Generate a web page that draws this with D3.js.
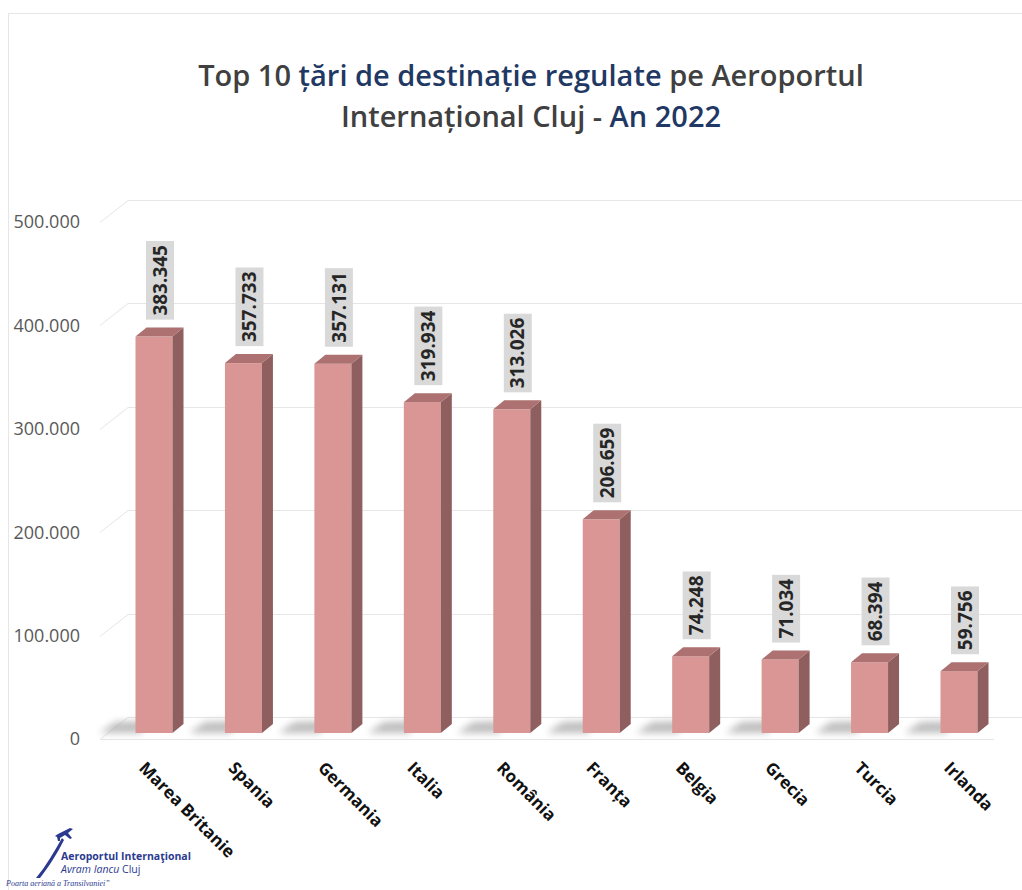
<!DOCTYPE html>
<html><head><meta charset="utf-8">
<script src="https://cdn.jsdelivr.net/npm/d3@7"></script>
<style>
html,body{margin:0;padding:0;background:#fff;}
svg{display:block;font-family:"Open Sans",sans-serif;}
</style></head>
<body><svg id="c" width="1022" height="890"></svg>
<script>
const categories = ["Marea Britanie","Spania","Germania","Italia","România","Franța","Belgia","Grecia","Turcia","Irlanda"];
const passengers = [383345,357733,357131,319934,313026,206659,74248,71034,68394,59756];
const yTicks = [0,100000,200000,300000,400000,500000];

const fmt = d3.formatLocale({decimal:",",thousands:".",grouping:[3],currency:["",""]}).format(",d");
const svg = d3.select("#c");
const defs = svg.append("defs");
defs.append("filter").attr("id","blur").attr("x","-50%").attr("y","-100%").attr("width","200%").attr("height","300%")
  .append("feGaussianBlur").attr("stdDeviation",3.5);

// frame
svg.append("rect").attr("x",8.5).attr("y",13.5).attr("width",1030).attr("height",900)
  .attr("fill","none").attr("stroke","#e6e6e6");

// title
const title = svg.append("g").attr("font-weight",600).attr("font-size",29).attr("text-anchor","middle");
const t1 = title.append("text").attr("x",531).attr("y",86);
t1.append("tspan").attr("fill","#404040").text("Top 10 ");
t1.append("tspan").attr("fill","#1f3864").text("țări de destinație regulate");
t1.append("tspan").attr("fill","#404040").text(" pe Aeroportul");
const t2 = title.append("text").attr("x",531).attr("y",127);
t2.append("tspan").attr("fill","#404040").text("Internațional Cluj - ");
t2.append("tspan").attr("fill","#1f3864").text("An 2022");

// scales
const yBack = d3.scaleLinear().domain([0,500000]).range([717,200]);
const yBar = d3.scaleLinear().domain([0,500000]).range([733,216]);
const x = d3.scalePoint().domain(categories).range([154,959]);
const DX = 28, DY = 22; // wall-to-front offset
const bw = 37, ddx = 11, ddy = 9;

// gridlines
const grid = svg.append("g").attr("stroke","#e6e6e6").attr("stroke-width",1).attr("fill","none");
yTicks.forEach(v=>{
  const yy = Math.round(yBack(v))+0.5;
  grid.append("line").attr("x1",128).attr("x2",1022).attr("y1",yy).attr("y2",yy);
  grid.append("line").attr("x1",128-DX).attr("x2",128).attr("y1",yy+DY).attr("y2",yy);
});
grid.append("line").attr("x1",100).attr("x2",994).attr("y1",Math.round(yBack(0))+DY+0.5).attr("y2",Math.round(yBack(0))+DY+0.5);

// y axis labels
svg.append("g").selectAll("text").data(yTicks).join("text")
  .attr("x",80).attr("y",d=>yBack(d)+DY).attr("dy","0.35em")
  .attr("text-anchor","end").attr("font-size",18).attr("fill","#595959")
  .text(d=>fmt(d));

// bars
const bars = svg.append("g");
categories.forEach((c,i)=>{
  const v = passengers[i];
  const x0 = x(c) - bw/2, x1 = x0 + bw;
  const yt = yBar(v), yb = yBar(0);
  const g = bars.append("g");
  g.append("polygon").attr("points",[[x0+6,yb],[x0-36,yb],[x0-20,yb-11],[x0+10,yb-12]].join(" "))
    .attr("fill","#8a8a8a").attr("opacity",0.55).attr("filter","url(#blur)");
  g.append("rect").attr("x",x0).attr("y",yt).attr("width",bw).attr("height",yb-yt).attr("fill","#d99694");
  g.append("polygon").attr("points",[[x1,yt],[x1+ddx,yt-ddy],[x1+ddx,yb-ddy],[x1,yb]].join(" ")).attr("fill","#8e5f5e");
  g.append("polygon").attr("points",[[x0,yt],[x0+ddx,yt-ddy],[x1+ddx,yt-ddy],[x1,yt]].join(" ")).attr("fill","#ac7170");
});

// value labels
const lab = svg.append("g");
categories.forEach((c,i)=>{
  const v = passengers[i];
  const cx = x(c)+6;
  const bottom = yBar(v) - ddy - 8;
  const g = lab.append("g");
  const rect = g.append("rect").attr("fill","#d9d9d9");
  const t = g.append("text").attr("font-size",19).attr("font-weight","bold").attr("fill","#262626")
    .attr("text-anchor","start").attr("transform",`translate(${cx},${bottom-4}) rotate(-90)`).attr("dy","0.35em")
    .text(fmt(v));
  const w = t.node().getComputedTextLength();
  rect.attr("x",cx-14).attr("width",28).attr("y",bottom-w-8).attr("height",w+8);
});

// category labels
svg.append("g").selectAll("text").data(categories).join("text")
  .attr("transform",d=>`translate(${x(d)-16},769) rotate(45)`)
  .attr("font-size",17).attr("font-weight","bold").attr("fill","#111")
  .text(d=>d);

// logo
const logo = svg.append("g");
logo.append("path").attr("d","M36,878 C46,866 54,852 62,838 L64,840 C57,854 48,868 40,878 Z").attr("fill","#2b3a8f");
logo.append("path").attr("d","M58,834 L70,828 L73,829 L68,833 L72,838 L70,839 L65,835 L60,838 L60,841 L58,841 L57,837 L55,836 Z").attr("fill","#2b3a8f");
logo.append("text").attr("x",61).attr("y",860).attr("font-size",10.5).attr("font-weight","bold").attr("fill","#2b3a8f").text("Aeroportul Internaţional");
const lt = logo.append("text").attr("x",61).attr("y",873).attr("font-size",10.5).attr("fill","#2b3a8f");
lt.append("tspan").attr("font-style","italic").text("Avram Iancu ");
lt.append("tspan").text("Cluj");
logo.append("text").attr("x",6).attr("y",886).attr("font-size",8).attr("font-style","italic")
  .attr("font-family","Liberation Serif, serif").attr("fill","#2b3a8f").text("Poarta aeriană a Transilvaniei\u201D");
</script></body></html>
